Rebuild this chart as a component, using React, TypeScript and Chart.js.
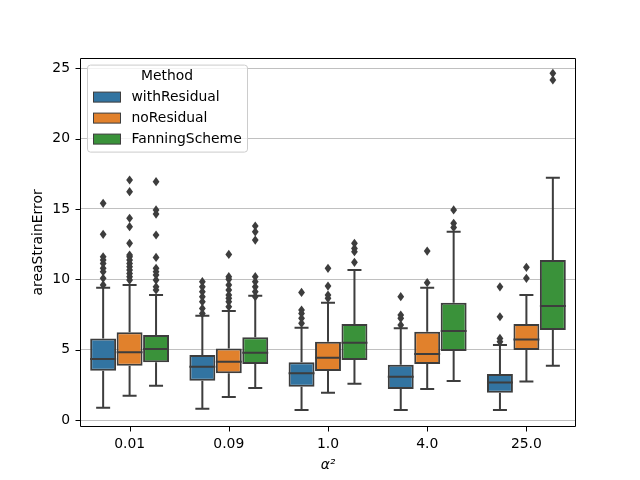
import { useEffect, useRef } from "react";
import { Chart, registerables } from "chart.js";

Chart.register(...registerables);

// Categories on the x axis (values of alpha squared)
const categories = ["0.01", "0.09", "1.0", "4.0", "25.0"];
const methods = ["withResidual", "noResidual", "FanningScheme"];
const fillColors = ["#3274a1", "#e1812c", "#3a923a"];
const edgeColor = "#3d3d3d";
const yTicks = [0, 5, 10, 15, 20, 25];

// withResidual box statistics
const withResidualLow = [0.88, 0.81, 0.71, 0.71, 0.71];
const withResidualQ1 = [3.5, 2.8, 2.37, 2.2, 1.94];
const withResidualMedian = [4.34, 3.79, 3.32, 3.08, 2.66];
const withResidualQ3 = [5.8, 4.62, 4.1, 3.93, 3.27];
const withResidualHigh = [9.4, 7.41, 6.56, 6.52, 5.33];
const withResidualOutliers = [
  [15.4, 13.2, 11.6, 11.37, 11.13, 10.78, 10.54, 10.07, 9.6],
  [9.83, 9.47, 9.12, 8.77, 8.41, 7.93, 7.58],
  [9.07, 7.82, 7.58, 7.23, 6.87],
  [8.77, 7.46, 7.23, 6.75],
  [9.47, 7.34, 5.8, 5.57],
];

// noResidual box statistics
const noResidualLow = [1.73, 1.63, 1.94, 2.2, 2.73];
const noResidualQ1 = [3.86, 3.32, 3.48, 3.98, 4.98];
const noResidualMedian = [4.81, 4.15, 4.43, 4.69, 5.73];
const noResidualQ3 = [6.23, 5.09, 5.57, 6.28, 6.82];
const noResidualHigh = [9.6, 7.75, 8.34, 9.4, 8.88];
const noResidualOutliers = [
  [17.06, 16.23, 14.34, 13.74, 12.56, 11.73, 11.61, 11.37, 11.13, 10.9, 10.66, 10.42, 10.19, 9.95],
  [11.77, 10.19, 10.0, 9.6, 9.24, 8.88, 8.65, 8.41, 8.05],
  [10.78, 9.52, 8.88, 8.65],
  [12.01, 9.76],
  [10.85, 10.07],
];

// FanningScheme box statistics
const fanningLow = [2.44, 2.27, 2.58, 2.77, 3.86];
const fanningQ1 = [4.1, 3.98, 4.26, 4.9, 6.4];
const fanningMedian = [5.05, 4.79, 5.5, 6.33, 8.1];
const fanningQ3 = [6.04, 5.88, 6.82, 8.34, 11.37];
const fanningHigh = [8.88, 8.84, 10.66, 13.38, 17.22];
const fanningOutliers = [
  [16.94, 14.93, 14.64, 13.15, 11.56, 10.78, 10.54, 10.31, 9.95, 9.47, 9.24],
  [13.79, 13.38, 12.79, 10.19, 9.83, 9.47, 9.12, 8.77],
  [12.56, 12.2, 11.96, 11.21],
  [14.93, 13.98, 13.69],
  [24.64, 24.17],
];

const lows = [withResidualLow, noResidualLow, fanningLow];
const q1s = [withResidualQ1, noResidualQ1, fanningQ1];
const medians = [withResidualMedian, noResidualMedian, fanningMedian];
const q3s = [withResidualQ3, noResidualQ3, fanningQ3];
const highs = [withResidualHigh, noResidualHigh, fanningHigh];
const outliers = [withResidualOutliers, noResidualOutliers, fanningOutliers];

const FONT = "'DejaVu Sans', sans-serif";
const FONT_SIZE = 13.9;

// Whiskers, medians, outlier diamonds, axes frame, x tick marks and legend
const boxExtras = {
  id: "boxExtras",
  afterDatasetsDraw(chart: any) {
    const ctx = chart.ctx;
    const y = chart.scales.y;
    const xs = chart.scales.x;
    ctx.save();
    ctx.strokeStyle = edgeColor;
    ctx.fillStyle = edgeColor;
    ctx.lineWidth = 2;
    ctx.lineCap = "butt";
    for (let d = 0; d < methods.length; d++) {
      const meta = chart.getDatasetMeta(d);
      meta.data.forEach((el: any, i: number) => {
        const x = el.x;
        const w = el.width;
        const half = w / 2;
        const cap = w * 0.27;
        const yq1 = y.getPixelForValue(q1s[d][i]);
        const yq3 = y.getPixelForValue(q3s[d][i]);
        const ylo = y.getPixelForValue(lows[d][i]);
        const yhi = y.getPixelForValue(highs[d][i]);
        const ymed = y.getPixelForValue(medians[d][i]);
        ctx.beginPath();
        ctx.moveTo(x, yq3);
        ctx.lineTo(x, yhi);
        ctx.moveTo(x - cap, yhi);
        ctx.lineTo(x + cap, yhi);
        ctx.moveTo(x, yq1);
        ctx.lineTo(x, ylo);
        ctx.moveTo(x - cap, ylo);
        ctx.lineTo(x + cap, ylo);
        ctx.moveTo(x - half, ymed);
        ctx.lineTo(x + half, ymed);
        ctx.stroke();
        outliers[d][i].forEach((v: number) => {
          const py = y.getPixelForValue(v);
          ctx.beginPath();
          ctx.moveTo(x, py - 4.6);
          ctx.lineTo(x + 3.4, py);
          ctx.lineTo(x, py + 4.6);
          ctx.lineTo(x - 3.4, py);
          ctx.closePath();
          ctx.fill();
        });
      });
    }
    // axes frame
    const a = chart.chartArea;
    const L = Math.round(a.left) + 0.5;
    const R = Math.round(a.right) - 0.5;
    const T = Math.round(a.top) + 0.5;
    const B = Math.round(a.bottom) - 0.5;
    ctx.strokeStyle = "#000";
    ctx.lineWidth = 1;
    ctx.beginPath();
    ctx.moveTo(L, T);
    ctx.lineTo(R, T);
    ctx.lineTo(R, B);
    ctx.lineTo(L, B);
    ctx.closePath();
    // x tick marks at category centres
    categories.forEach((_, i) => {
      const px = Math.round(xs.getPixelForValue(i)) + 0.5;
      ctx.moveTo(px, B);
      ctx.lineTo(px, B + 5);
    });
    // y tick marks
    yTicks.forEach((v) => {
      const py = Math.round(y.getPixelForValue(v)) + 0.5;
      ctx.moveTo(L - 5, py);
      ctx.lineTo(L, py);
    });
    ctx.stroke();

    // legend box
    const lx = a.left + 7.5;
    const ly = a.top + 7.5;
    const lw = 160;
    const lh = 87;
    ctx.beginPath();
    ctx.roundRect(lx, ly, lw, lh, 3);
    ctx.fillStyle = "rgba(255,255,255,0.8)";
    ctx.fill();
    ctx.strokeStyle = "#cccccc";
    ctx.lineWidth = 1;
    ctx.stroke();
    ctx.font = `${FONT_SIZE}px ${FONT}`;
    ctx.fillStyle = "#000";
    ctx.textBaseline = "middle";
    ctx.textAlign = "center";
    ctx.fillText("Method", lx + 79.5, ly + 11);
    ctx.textAlign = "left";
    methods.forEach((m, k) => {
      const cy = ly + 32 + k * 21;
      ctx.fillStyle = fillColors[k];
      ctx.fillRect(lx + 6, cy - 5, 27, 10);
      ctx.strokeStyle = edgeColor;
      ctx.lineWidth = 1;
      ctx.strokeRect(lx + 6, cy - 5, 27, 10);
      ctx.fillStyle = "#000";
      ctx.fillText(m, lx + 44, cy + 0.5);
    });
    ctx.restore();
  },
};

export default function App() {
  const ref = useRef<HTMLCanvasElement | null>(null);

  useEffect(() => {
    document.body.style.margin = "0";
    const canvas = ref.current;
    if (!canvas) return;
    const chart = new Chart(canvas, {
      type: "bar",
      data: {
        labels: categories,
        datasets: methods.map((m, d) => ({
          label: m,
          data: q1s[d].map((v, i) => [v, q3s[d][i]]),
          backgroundColor: fillColors[d],
          borderColor: edgeColor,
          borderWidth: 2,
          borderSkipped: false,
          categoryPercentage: 0.8,
          barPercentage: 0.98,
        })),
      },
      options: {
        responsive: false,
        animation: false,
        events: [],
        layout: { padding: { top: 57.6, right: 64, left: 0, bottom: 0 } },
        plugins: {
          legend: { display: false },
          tooltip: { enabled: false },
        },
        scales: {
          x: {
            type: "category",
            offset: true,
            grid: { display: false, drawTicks: false },
            border: { display: false },
            ticks: {
              color: "#000",
              padding: 9,
              font: { family: FONT, size: FONT_SIZE },
              maxRotation: 0,
            },
            title: {
              display: true,
              text: "α²",
              color: "#000",
              font: { family: FONT, size: FONT_SIZE, style: "italic" },
              padding: { top: 0, bottom: 6.5 },
            },
            afterFit: (s: any) => {
              s.height = 52.8;
            },
          },
          y: {
            type: "linear",
            min: -0.51,
            max: 25.76,
            grid: {
              color: "#b0b0b0",
              lineWidth: 0.8,
              drawTicks: false,
            },
            border: { display: false },
            ticks: {
              color: "#000",
              padding: 10,
              font: { family: FONT, size: FONT_SIZE },
            },
            afterBuildTicks: (s: any) => {
              s.ticks = yTicks.map((v) => ({ value: v }));
            },
            title: {
              display: true,
              text: "areaStrainError",
              color: "#000",
              font: { family: FONT, size: FONT_SIZE },
              padding: { top: 30.5, bottom: 0 },
            },
            afterFit: (s: any) => {
              s.width = 80;
            },
          },
        },
      },
      plugins: [boxExtras],
    });
    return () => chart.destroy();
  }, []);

  return (
    <div style={{ width: 640, height: 480 }}>
      <canvas ref={ref} width={640} height={480} style={{ display: "block" }} />
    </div>
  );
}
